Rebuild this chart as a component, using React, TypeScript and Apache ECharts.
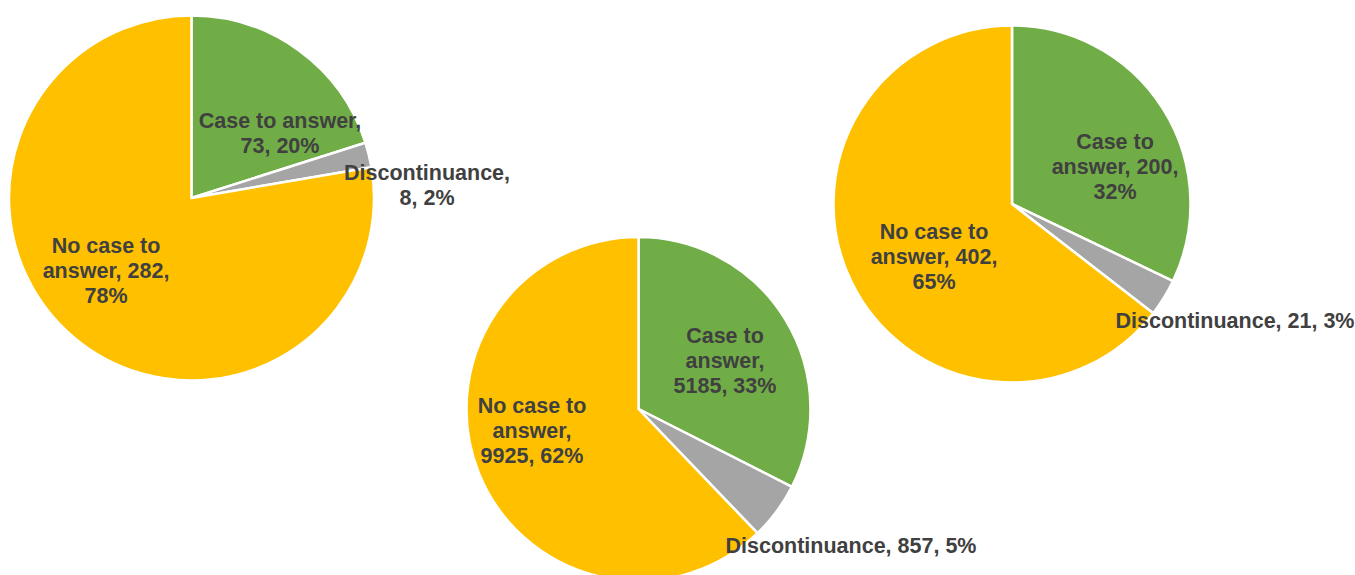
import React, { useEffect, useRef } from "react";
import * as echarts from "echarts";

const categories = ["Case to answer", "Discontinuance", "No case to answer"];
const pie1Values = [73, 8, 282];
const pie2Values = [5185, 857, 9925];
const pie3Values = [200, 21, 402];

const pie1Templates = ["Case to answer,\n{c}, {d}%", "Discontinuance,\n{c}, {d}%", "No case to\nanswer, {c},\n{d}%"];
const pie2Templates = ["Case to\nanswer,\n{c}, {d}%", "Discontinuance, {c}, {d}%", "No case to\nanswer,\n{c}, {d}%"];
const pie3Templates = ["Case to\nanswer, {c},\n{d}%", "Discontinuance, {c}, {d}%", "No case to\nanswer, {c},\n{d}%"];

const colors = ["#70AD47", "#A5A5A5", "#FFC000"];

// layout (pixels)
const pieLayouts = [
  { center: [191.5, 198], radius: 182.5, labels: [[280, 133], [427, 185], [106, 271]] },
  { center: [638.5, 409], radius: 172, labels: [[725, 361], [851, 546], [532, 431]] },
  { center: [1012, 204], radius: 178.5, labels: [[1115, 167], [1235, 321], [934, 257]] },
];

export default function App() {
  const ref = useRef<HTMLDivElement>(null);
  useEffect(() => {
    if (!ref.current) return;
    const chart = echarts.init(ref.current, undefined, { renderer: "svg" });
    const valueSets = [pie1Values, pie2Values, pie3Values];
    const templateSets = [pie1Templates, pie2Templates, pie3Templates];
    const series = valueSets.map((vals, si) => ({
      type: "pie",
      center: pieLayouts[si].center,
      radius: pieLayouts[si].radius,
      startAngle: 90,
      clockwise: true,
      silent: true,
      percentPrecision: 0,
      itemStyle: { borderColor: "#ffffff", borderWidth: 2.5 },
      labelLine: { show: false },
      label: {
        show: true,
        position: "inside",
        color: "#404040",
        fontFamily: "Liberation Sans, Arial, sans-serif",
        fontWeight: "bold",
        fontSize: 21.5,
        lineHeight: 25,
        align: "center",
      },
      labelLayout: (params: any) => {
        const p = pieLayouts[si].labels[params.dataIndex];
        return { x: p[0], y: p[1], align: "center", verticalAlign: "middle", moveOverlap: false, hideOverlap: false };
      },
      data: vals.map((v, i) => ({
        name: categories[i],
        value: v,
        itemStyle: { color: colors[i] },
        label: { formatter: templateSets[si][i] },
      })),
    }));
    chart.setOption({ animation: false, series } as any);
    return () => chart.dispose();
  }, []);
  return (
    <div
      ref={ref}
      style={{ position: "fixed", left: 0, top: 0, width: 1355, height: 575, background: "#ffffff" }}
    />
  );
}
